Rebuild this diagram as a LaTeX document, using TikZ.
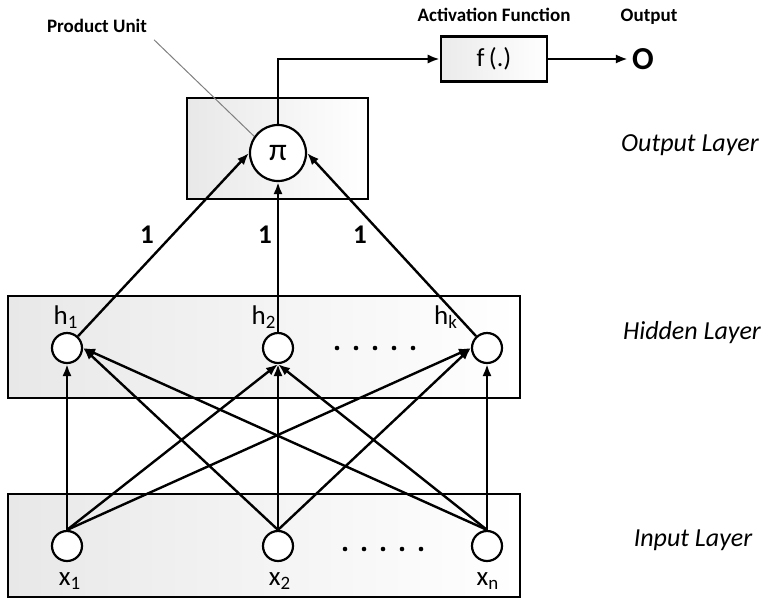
\documentclass[tikz,border=0pt]{standalone}
\usepackage{fontspec}
\setmainfont{Carlito}
\usetikzlibrary{arrows.meta}
\begin{document}
\begin{tikzpicture}[x=0.5pt,y=-0.5pt,
	neuron/.style={draw,circle,line width=1.1pt,minimum size=15pt,inner sep=0pt,fill=white},
	layerbox/.style={draw,line width=1.3pt,left color=black!9,right color=white},
	wire/.style={line width=1.2pt,-{Latex[length=6pt,width=4.6pt]}},
	layername/.style={font=\fontsize{13}{15}\selectfont\itshape},
	caption/.style={font=\fontsize{9.5}{11}\selectfont\bfseries},
	unitname/.style={font=\fontsize{13.5}{15}\selectfont},
	weight/.style={font=\fontsize{13.5}{15}\selectfont\bfseries}]
	\useasboundingbox (0,0) rectangle (764,600);
	% layers
	\draw [layerbox] (187,98) rectangle (368,199);
	\draw [layerbox] (8,296) rectangle (520,398);
	\draw [layerbox] (8,494) rectangle (520,597);
	\node [layername] (outl) at (690,145) {Output Layer};
	\node [layername] (hidl) at (692,333) {Hidden Layer};
	\node [layername] (inl) at (693,540) {Input Layer};
	% units
	\node [neuron,minimum size=28pt,font=\fontsize{16}{18}\selectfont] (pi) at (278,153) {π};
	\node [neuron] (h1) at (67,348) {};
	\node [neuron] (h2) at (278,348) {};
	\node [neuron] (hk) at (487,348) {};
	\node [neuron] (x1) at (67,546) {};
	\node [neuron] (x2) at (278,546) {};
	\node [neuron] (xn) at (487,546) {};
	\node [unitname] (h1l) at (66,317) {h\textsubscript{1}};
	\node [unitname] (h2l) at (264,317) {h\textsubscript{2}};
	\node [unitname] (hkl) at (446,317) {h\textsubscript{k}};
	\node [unitname] (x1l) at (70,581) {x\textsubscript{1}};
	\node [unitname] (x2l) at (280,581) {x\textsubscript{2}};
	\node [unitname] (xnl) at (488,581) {x\textsubscript{n}};
	\foreach \k in {0,...,4} {
		\fill (337+\k*19,348) circle (2.3);
		\fill (345+\k*19,549) circle (2.3);
	}
	% input -> hidden
	\draw [wire] (x1.north) -- (h1.south);
	\draw [wire] (x2.north) -- (h1.east);
	\draw [wire] (xn.north) -- (h1.east);
	\draw [wire] (x1.north) -- (h2.south);
	\draw [wire] (x2.north) -- (h2.south);
	\draw [wire] (xn.north) -- (h2.south);
	\draw [wire] (x1.north) -- (hk.west);
	\draw [wire] (x2.north) -- (hk.west);
	\draw [wire] (xn.north) -- (hk.south);
	% hidden -> product unit
	\draw [wire] (h1) -- (pi.west);
	\draw [wire] (h2.north) -- (pi.south);
	\draw [wire] (hk) -- (pi.east);
	\node [weight] (w1) at (147,235) {1};
	\node [weight] (w2) at (265,235) {1};
	\node [weight] (wk) at (360,235) {1};
	% activation and output
	\node [draw,line width=1.3pt,left color=black!8,right color=white,minimum width=53pt,minimum height=22.5pt,font=\fontsize{13}{15}\selectfont] (f) at (494,59) {f\,(.)};
	\node [font=\fontsize{16}{18}\selectfont\bfseries,inner sep=2pt] (o) at (643,59) {O};
	\draw [wire] (pi.north) |- (f.west);
	\draw [wire] (f.east) -- (o.west);
	\node [caption] (actl) at (494,15) {Activation Function};
	\node [caption] (outp) at (649,17) {Output};
	\node [caption] (pu) at (97,26) {Product Unit};
	\draw [gray,line width=0.5pt] (pu.south east) -- (pi.145);
\end{tikzpicture}
\end{document}
